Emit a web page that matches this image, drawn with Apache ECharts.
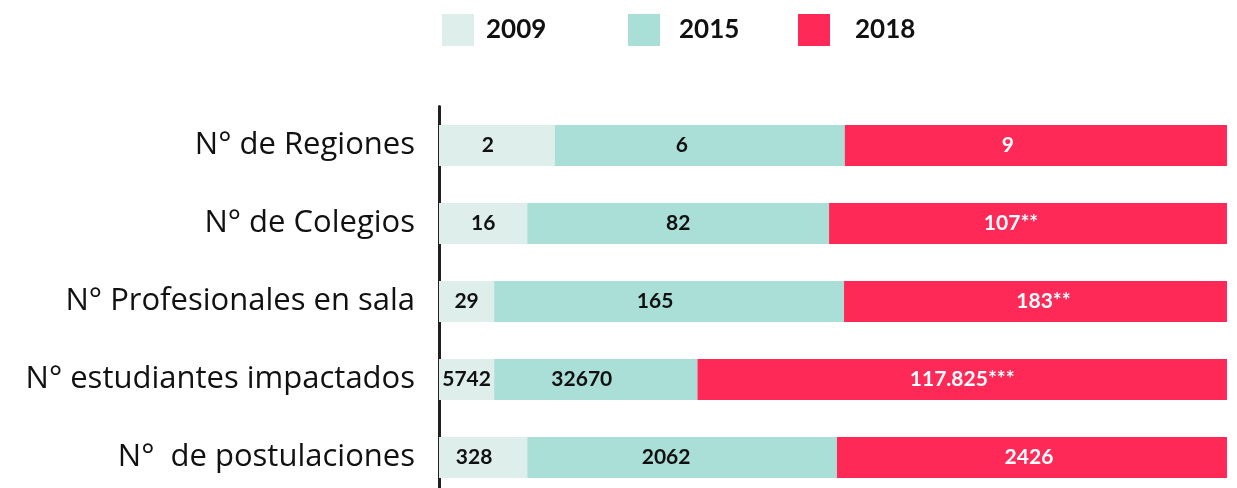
<!DOCTYPE html>
<html>
<head>
<meta charset="utf-8">
<script src="https://cdn.jsdelivr.net/npm/echarts@6/dist/echarts.min.js"></script>
<style>
html,body{margin:0;padding:0;background:#fff;overflow:hidden;}
#c{width:1237px;height:497px;}
</style>
</head>
<body>
<div id="c"></div>
<script>
// ---- data ----
const categories = ['N° de Regiones', 'N° de Colegios', 'N° Profesionales en sala', 'N° estudiantes impactados', 'N°  de postulaciones'];
const years = ['2009', '2015', '2018'];
// bar segment shares (% of bar length) as drawn
const share2009 = [14.7, 11.2, 7.0, 7.0, 11.2];
const share2015 = [36.8, 38.3, 44.4, 25.8, 39.3];
const share2018 = [48.5, 50.5, 48.6, 67.2, 49.5];
// printed values
const labels2009 = ['2', '16', '29', '5742', '328'];
const labels2015 = ['6', '82', '165', '32670', '2062'];
const labels2018 = ['9', '107**', '183**', '117.825***', '2426'];

// ---- style ----
const colors = ['#ddeeeb', '#a9dfd7', '#ff2957'];
const labelColors = ['#111', '#111', '#fff'];
const FONT = 'Lato, "Open Sans", sans-serif';
const CAT_FONT = '"Open Sans", Lato, sans-serif';
// horizontal label nudges (px) per series, per row
const labelNudge = [
  [-9, 0, 0, 0, -9],
  [-18, 0, -14, -14, -16],
  [-28, -17, 8, 0, -3]
];
const shares = [share2009, share2015, share2018];
const labelSets = [labels2009, labels2015, labels2018];

const chart = echarts.init(document.getElementById('c'), null, {renderer: 'canvas'});

function legendFor(i, left, gap) {
  return {
    data: [years[i]], left: left, top: 14, itemWidth: 32, itemHeight: 32, icon: 'rect',
    padding: 0, selectedMode: false,
    textStyle: {fontFamily: FONT, fontWeight: 'bold', fontSize: 26, color: '#111', padding: [0, 0, 0, gap]}
  };
}

chart.setOption({
  animation: false,
  backgroundColor: '#fff',
  legend: [legendFor(0, 442, 7), legendFor(1, 628, 14), legendFor(2, 798, 20)],
  grid: {left: 439, right: 10, top: 106.5, height: 390, containLabel: false},
  xAxis: {type: 'value', min: 0, max: 100, show: false},
  yAxis: {
    type: 'category', data: categories, inverse: true, offset: 2,
    axisLine: {show: true, lineStyle: {color: '#231f20', width: 3}},
    axisTick: {show: false},
    splitLine: {show: false},
    axisLabel: {fontFamily: CAT_FONT, fontSize: 31, color: '#111', margin: 22, padding: [5, 0, 0, 0]}
  },
  series: years.map((y, i) => ({
    name: y, type: 'bar', stack: 'total', barWidth: 41,
    itemStyle: {color: colors[i]},
    label: {
      show: true, position: 'inside', color: labelColors[i],
      fontFamily: FONT, fontWeight: 'bold', fontSize: 21,
      formatter: p => labelSets[i][p.dataIndex]
    },
    data: shares[i].map((v, j) => ({value: v, label: {offset: [labelNudge[i][j], 0]}}))
  }))
});
</script>
</body>
</html>
